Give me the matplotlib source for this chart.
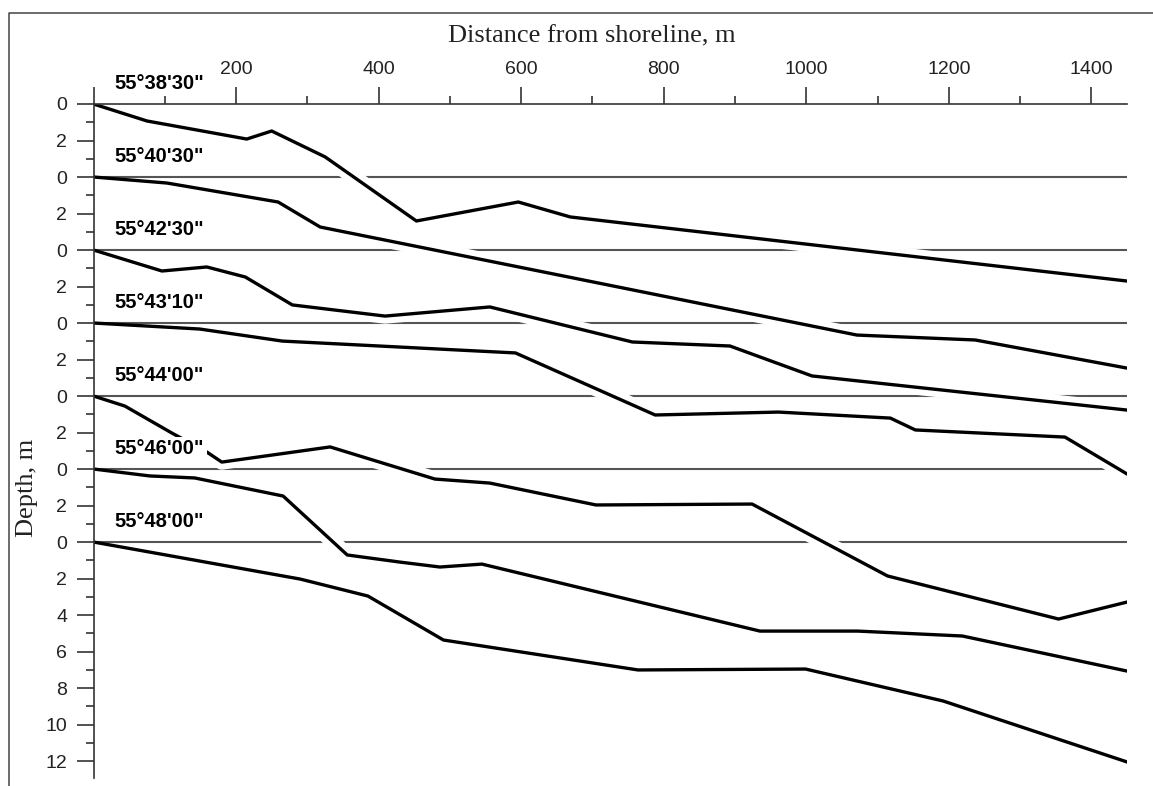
import matplotlib.pyplot as plt
from matplotlib.lines import Line2D
from matplotlib.ticker import MultipleLocator

plt.rcParams['font.family'] = ['Liberation Sans', 'DejaVu Sans']

# profiles across the shore, listed top to bottom
latitudes = ["55°38'30\"", "55°40'30\"", "55°42'30\"", "55°43'10\"",
             "55°44'00\"", "55°46'00\"", "55°48'00\""]

dist_1 = [0, 75, 215, 250, 325, 453, 596, 669, 1450]
depth_1 = [0, 0.93, 1.92, 1.48, 2.9, 6.41, 5.37, 6.19, 9.7]

dist_2 = [0, 103, 259, 318, 1071, 1237, 1450]
depth_2 = [0, 0.33, 1.37, 2.74, 8.66, 8.93, 10.47]

dist_3 = [0, 96, 159, 213, 279, 409, 556, 756, 893, 1008, 1450]
depth_3 = [0, 1.15, 0.93, 1.48, 3.01, 3.62, 3.12, 5.04, 5.26, 6.9, 8.77]

dist_4 = [0, 149, 265, 592, 788, 961, 1118, 1153, 1363, 1450]
depth_4 = [0, 0.33, 0.99, 1.64, 5.04, 4.88, 5.21, 5.86, 6.25, 8.27]

dist_5 = [0, 44, 110, 159, 180, 332, 479, 556, 705, 924, 1114, 1354, 1450]
depth_5 = [0, 0.55, 2.03, 3.07, 3.62, 2.79, 4.55, 4.77, 5.97, 5.92, 9.86, 12.22, 11.29]

dist_6 = [0, 79, 142, 266, 356, 430, 486, 545, 935, 1072, 1219, 1450]
depth_6 = [0, 0.38, 0.49, 1.48, 4.71, 5.1, 5.37, 5.21, 8.88, 8.88, 9.15, 11.07]

dist_7 = [0, 290, 385, 491, 764, 999, 1192, 1450]
depth_7 = [0, 2.03, 2.96, 5.37, 7.01, 6.96, 8.71, 12.05]

profiles = [(dist_1, depth_1), (dist_2, depth_2), (dist_3, depth_3), (dist_4, depth_4),
            (dist_5, depth_5), (dist_6, depth_6), (dist_7, depth_7)]

step = 4  # vertical spacing of the profiles, m
n = len(profiles)

W, H = 1153, 786
fig = plt.figure(figsize=(W / 100, H / 100), dpi=100)
ax = fig.add_axes([93.5 / W, 1 - 778 / H, (1127 - 93.5) / W, (778 - 104) / H])

for i, (dist, depth) in enumerate(profiles):
    off = i * step
    y = [d + off for d in depth]
    z = 1 + (n - 1 - i) * 0.2
    # white halo breaks the zero lines of the profiles below
    ax.plot(dist, y, color='white', lw=11, solid_joinstyle='round',
            solid_capstyle='butt', zorder=z)
    if i > 0:
        ax.axhline(off, color='#555555', lw=1.5, zorder=z + 0.1)
    ax.plot(dist, y, color='black', lw=2.4, solid_joinstyle='round', zorder=2.4)
    ax.text(30, off - 1.1, latitudes[i], ha='left', va='center', fontsize=14.5,
            fontweight='bold', zorder=5, clip_on=False,
            bbox=dict(facecolor='white', edgecolor='none', pad=2))

ax.set_xlim(0, 1450)
ax.set_ylim(36.93, 0)

for s in ['right', 'bottom']:
    ax.spines[s].set_visible(False)
for s in ['top', 'left']:
    ax.spines[s].set_color('#333333')
    ax.spines[s].set_linewidth(1.2)

ax.xaxis.tick_top()
xt = list(range(0, 1401, 200))
ax.set_xticks(xt)
ax.set_xticklabels([''] + [str(v) for v in xt[1:]])
ax.xaxis.set_minor_locator(MultipleLocator(100))

yt = list(range(0, (n - 1) * step + 13, 2))
ax.set_yticks(yt)
ax.set_yticklabels([str(v % step) if v < (n - 1) * step else str(v - (n - 1) * step) for v in yt])
ax.yaxis.set_minor_locator(MultipleLocator(1))

ax.tick_params(which='both', color='#333333', width=1.2, labelsize=14, labelcolor='#222222')
ax.tick_params(which='major', length=12, pad=7)
ax.tick_params(which='minor', length=6)

fig.text(592 / W, 1 - 42 / H, 'Distance from shoreline, m', ha='center', va='baseline',
         family='Liberation Serif', fontsize=19, color='#222222')
fig.text(27 / W, 1 - 488 / H, 'Depth, m', rotation=90, ha='center', va='center',
         family='Liberation Serif', fontsize=19, color='#222222')

fig.add_artist(Line2D([9 / W, 9 / W, 1], [0, 1 - 13 / H, 1 - 13 / H],
                      transform=fig.transFigure, color='#444444', lw=1.1))

fig.savefig('out.png', dpi=100)
